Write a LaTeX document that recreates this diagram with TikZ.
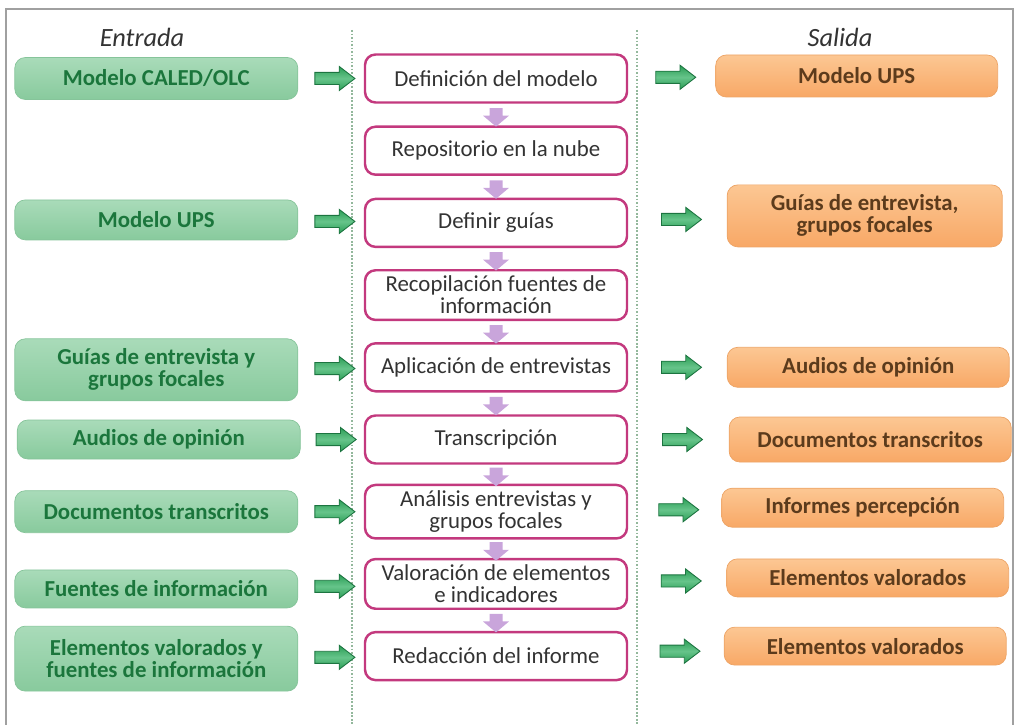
\documentclass[tikz,border=0pt]{standalone}
\usepackage{fontspec}
\setmainfont{Carlito}
\usepackage{tikz}
\usetikzlibrary{arrows.meta, shapes.arrows, positioning}
\definecolor{inTop}{HTML}{A9DBB9}
\definecolor{inBottom}{HTML}{88CA9D}
\definecolor{inLine}{HTML}{86C49A}
\definecolor{inText}{HTML}{1B763C}
\definecolor{outTop}{HTML}{FCC793}
\definecolor{outBottom}{HTML}{F8A866}
\definecolor{outLine}{HTML}{EDA466}
\definecolor{outText}{HTML}{5C3B1C}
\definecolor{stepLine}{HTML}{C3397E}
\definecolor{stepText}{HTML}{333333}
\definecolor{arrowDark}{HTML}{2A9D55}
\definecolor{arrowLight}{HTML}{66C48A}
\definecolor{arrowLine}{HTML}{1C7440}
\definecolor{lilac}{HTML}{C9A5DB}
\definecolor{guide}{HTML}{93B89C}
\definecolor{frameGray}{HTML}{A0A0A0}
\tikzstyle{fInput} = [rectangle, rounded corners=6pt, minimum width=5.66cm, minimum height=0.84cm, align=center, draw=inLine, top color=inTop, bottom color=inBottom, text=inText, font=\fontsize{13}{12.5}\selectfont\bfseries]
\tikzstyle{fOutput} = [rectangle, rounded corners=6pt, minimum width=5.64cm, minimum height=0.84cm, align=center, draw=outLine, top color=outTop, bottom color=outBottom, text=outText, font=\fontsize{13}{12.5}\selectfont\bfseries]
\tikzstyle{fStep} = [rectangle, rounded corners=6pt, minimum width=5.24cm, minimum height=0.96cm, align=center, draw=stepLine, line width=1.4pt, fill=white, text=stepText, font=\fontsize{13}{12.5}\selectfont]
\tikzstyle{fArrowRight} = [single arrow, draw=arrowLine, line width=0.5pt, top color=arrowDark, bottom color=arrowDark, middle color=arrowLight, minimum height=0.8cm, inner sep=3.2pt, single arrow head extend=0.12cm, single arrow tip angle=75]
\tikzstyle{fArrowDown} = [single arrow, shape border rotate=270, fill=lilac, minimum height=0.32cm, inner sep=3.5pt, single arrow head extend=0.13cm, single arrow tip angle=100]
\tikzstyle{fHeader} = [text=stepText, font=\fontsize{15}{15}\selectfont\itshape]
\tikzstyle{fGuide} = [densely dotted, line width=1pt, draw=guide]

\begin{document}
\begin{tikzpicture}[node distance=1.444cm]
    \useasboundingbox (0,0) rectangle (20.3,-14.5);
    \draw [frameGray, line width=0.8pt] (0.12,-14.5) |- (20.26,-0.18) -- (20.26,-14.5);
    \draw [fGuide] (7.04,-0.6) -- (7.04,-14.5);
    \draw [fGuide] (12.74,-0.6) -- (12.74,-14.5);

    \node (entrada) [fHeader] at (2.84,-0.74) {Entrada};
    \node (salida) [fHeader] at (16.8,-0.74) {Salida};

    % proceso
    \node (defModel) [fStep] at (9.92,-1.57) {Definición del modelo};
    \node (repoNube) [fStep, below of=defModel] {Repositorio en la nube};
    \node (defGuias) [fStep, below of=repoNube] {Definir guías};
    \node (recFuentes) [fStep, below of=defGuias] {Recopilación fuentes de\\información};
    \node (aplEntrev) [fStep, below of=recFuentes] {Aplicación de entrevistas};
    \node (transcr) [fStep, below of=aplEntrev] {Transcripción};
    \node (analisis) [fStep, below of=transcr] {Análisis entrevistas y\\grupos focales};
    \node (valoracion) [fStep, below of=analisis] {Valoración de elementos\\e indicadores};
    \node (redaccion) [fStep, below of=valoracion] {Redacción del informe};

    % entradas
    \node (inCaled) [fInput, left of=defModel, xshift=-5.35cm] {Modelo CALED/OLC};
    \node (inUps) [fInput, left of=defGuias, xshift=-5.35cm, yshift=0.06cm, minimum height=0.8cm] {Modelo UPS};
    \node (inGuias) [fInput, left of=aplEntrev, xshift=-5.35cm, yshift=-0.05cm, minimum height=1.24cm] {Guías de entrevista y\\grupos focales};
    \node (inAudios) [fInput, left of=transcr, xshift=-5.3cm, minimum height=0.78cm] {Audios de opinión};
    \node (inDocs) [fInput, left of=analisis, xshift=-5.35cm] {Documentos transcritos};
    \node (inFuentes) [fInput, left of=valoracion, xshift=-5.35cm, yshift=-0.1cm, minimum height=0.76cm] {Fuentes de información};
    \node (inElem) [fInput, left of=redaccion, xshift=-5.35cm, yshift=-0.05cm, minimum height=1.3cm] {Elementos valorados y\\fuentes de información};

    % salidas
    \node (outUps) [fOutput, right of=defModel, xshift=5.77cm, yshift=0.05cm] {Modelo UPS};
    \node (outGuias) [fOutput, right of=defGuias, xshift=5.93cm, yshift=0.14cm, minimum width=5.5cm, minimum height=1.24cm] {Guías de entrevista,\\grupos focales};
    \node (outAudios) [fOutput, right of=aplEntrev, xshift=6cm, minimum height=0.8cm] {Audios de opinión};
    \node (outDocs) [fOutput, right of=transcr, xshift=6.04cm, minimum height=0.9cm] {Documentos transcritos};
    \node (outInformes) [fOutput, right of=analisis, xshift=5.89cm, yshift=0.08cm, minimum height=0.78cm] {Informes percepción};
    \node (outElem) [fOutput, right of=valoracion, xshift=5.99cm, yshift=0.12cm, minimum height=0.76cm] {Elementos valorados};
    \node (outElemB) [fOutput, right of=redaccion, xshift=5.94cm, yshift=0.2cm, minimum height=0.76cm] {Elementos valorados};

    % flechas verdes
    \path (inCaled) -- node (arInCaled) [fArrowRight] {} (defModel);
    \path (inUps) -- node (arInUps) [fArrowRight] {} (defGuias);
    \path (inGuias) -- node (arInGuias) [fArrowRight] {} (aplEntrev);
    \path (inAudios) -- node (arInAudios) [fArrowRight] {} (transcr);
    \path (inDocs) -- node (arInDocs) [fArrowRight] {} (analisis);
    \path (inFuentes) -- node (arInFuentes) [fArrowRight] {} (valoracion);
    \path (inElem) -- node (arInElem) [fArrowRight] {} (redaccion);
    \path (defModel) -- node (arOutUps) [fArrowRight] {} (outUps);
    \path (defGuias) -- node (arOutGuias) [fArrowRight] {} (outGuias);
    \path (aplEntrev) -- node (arOutAudios) [fArrowRight] {} (outAudios);
    \path (transcr) -- node (arOutDocs) [fArrowRight] {} (outDocs);
    \path (analisis) -- node (arOutInformes) [fArrowRight] {} (outInformes);
    \path (valoracion) -- node (arOutElem) [fArrowRight] {} (outElem);
    \path (redaccion) -- node (arOutElemB) [fArrowRight] {} (outElemB);

    % flechas del proceso
    \path (defModel) -- node (dnA) [fArrowDown] {} (repoNube);
    \path (repoNube) -- node (dnB) [fArrowDown] {} (defGuias);
    \path (defGuias) -- node (dnC) [fArrowDown] {} (recFuentes);
    \path (recFuentes) -- node (dnD) [fArrowDown] {} (aplEntrev);
    \path (aplEntrev) -- node (dnE) [fArrowDown] {} (transcr);
    \path (transcr) -- node (dnF) [fArrowDown] {} (analisis);
    \path (analisis) -- node (dnG) [fArrowDown] {} (valoracion);
    \path (valoracion) -- node (dnH) [fArrowDown] {} (redaccion);
\end{tikzpicture}
\end{document}
